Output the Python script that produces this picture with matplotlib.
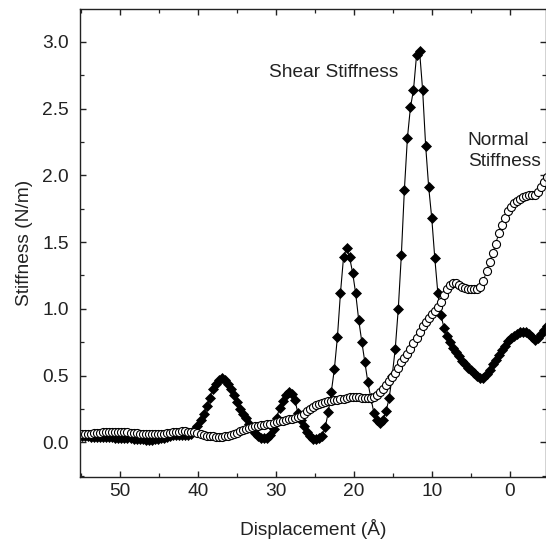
import matplotlib
matplotlib.use("Agg")
from matplotlib import pyplot as plt
from matplotlib.ticker import MultipleLocator

plt.rcParams['font.family'] = ['Liberation Sans', 'DejaVu Sans']

# displacement (Angstrom), one sample every ~0.39 A
disp = [54.86, 54.47, 54.08, 53.69, 53.30, 52.91, 52.52, 52.13, 51.74, 51.35,
        50.96, 50.57, 50.18, 49.79, 49.40, 49.01, 48.62, 48.23, 47.84, 47.45,
        47.06, 46.67, 46.28, 45.89, 45.50, 45.11, 44.72, 44.33, 43.94, 43.55,
        43.16, 42.77, 42.38, 41.99, 41.60, 41.21, 40.82, 40.43, 40.04, 39.65,
        39.26, 38.87, 38.48, 38.09, 37.70, 37.31, 36.92, 36.53, 36.14, 35.75,
        35.36, 34.97, 34.58, 34.19, 33.80, 33.41, 33.02, 32.63, 32.24, 31.85,
        31.46, 31.07, 30.68, 30.29, 29.90, 29.51, 29.12, 28.73, 28.34, 27.95,
        27.56, 27.17, 26.78, 26.39, 26.00, 25.61, 25.22, 24.83, 24.44, 24.05,
        23.66, 23.27, 22.88, 22.49, 22.10, 21.71, 21.32, 20.93, 20.54, 20.15,
        19.76, 19.37, 18.98, 18.59, 18.20, 17.81, 17.42, 17.03, 16.64, 16.25,
        15.86, 15.47, 15.08, 14.69, 14.30, 13.91, 13.52, 13.13, 12.74, 12.35,
        11.96, 11.57, 11.18, 10.79, 10.40, 10.01, 9.62, 9.23, 8.84, 8.45,
        8.06, 7.67, 7.28, 6.89, 6.50, 6.11, 5.72, 5.33, 4.94, 4.55,
        4.16, 3.77, 3.38, 2.99, 2.60, 2.21, 1.82, 1.43, 1.04, 0.65,
        0.26, -0.13, -0.52, -0.91, -1.30, -1.69, -2.08, -2.47, -2.86, -3.25,
        -3.64, -4.03, -4.42, -4.81]

shear = [0.045, 0.045, 0.044, 0.043, 0.042, 0.041, 0.040, 0.040, 0.039, 0.038,
         0.037, 0.036, 0.035, 0.034, 0.033, 0.031, 0.029, 0.027, 0.025, 0.023,
         0.022, 0.021, 0.020, 0.021, 0.022, 0.025, 0.030, 0.036, 0.042, 0.048,
         0.053, 0.056, 0.058, 0.058, 0.057, 0.058, 0.065, 0.090, 0.120, 0.165,
         0.210, 0.270, 0.330, 0.400, 0.440, 0.470, 0.480, 0.470, 0.440, 0.400,
         0.355, 0.300, 0.250, 0.210, 0.180, 0.140, 0.105, 0.070, 0.045, 0.035,
         0.030, 0.035, 0.055, 0.100, 0.180, 0.260, 0.310, 0.355, 0.380, 0.360,
         0.320, 0.220, 0.170, 0.120, 0.075, 0.045, 0.025, 0.022, 0.030, 0.045,
         0.115, 0.225, 0.380, 0.550, 0.790, 1.120, 1.385, 1.453, 1.385, 1.270,
         1.115, 0.915, 0.755, 0.605, 0.450, 0.330, 0.220, 0.170, 0.145, 0.170,
         0.235, 0.330, 0.500, 0.700, 1.000, 1.400, 1.890, 2.280, 2.510, 2.640,
         2.900, 2.930, 2.640, 2.220, 1.910, 1.680, 1.380, 1.120, 0.955, 0.860,
         0.800, 0.750, 0.710, 0.675, 0.645, 0.610, 0.585, 0.560, 0.540, 0.520,
         0.500, 0.485, 0.480, 0.510, 0.545, 0.585, 0.620, 0.655, 0.690, 0.725,
         0.760, 0.785, 0.800, 0.815, 0.825, 0.830, 0.825, 0.810, 0.790, 0.770,
         0.780, 0.810, 0.845, 0.870]

normal = [0.060, 0.062, 0.064, 0.066, 0.068, 0.070, 0.072, 0.074, 0.075, 0.076,
          0.077, 0.078, 0.078, 0.077, 0.076, 0.074, 0.072, 0.070, 0.068, 0.066,
          0.064, 0.062, 0.061, 0.060, 0.060, 0.061, 0.063, 0.066, 0.069, 0.072,
          0.075, 0.078, 0.080, 0.081, 0.081, 0.080, 0.078, 0.075, 0.070, 0.062,
          0.055, 0.050, 0.046, 0.044, 0.043, 0.042, 0.043, 0.045, 0.050, 0.057,
          0.065, 0.073, 0.082, 0.090, 0.098, 0.106, 0.113, 0.119, 0.124, 0.128,
          0.132, 0.136, 0.140, 0.145, 0.152, 0.158, 0.163, 0.167, 0.171, 0.175,
          0.180, 0.188, 0.200, 0.215, 0.232, 0.250, 0.265, 0.278, 0.288, 0.296,
          0.302, 0.307, 0.312, 0.316, 0.320, 0.324, 0.328, 0.332, 0.336, 0.338,
          0.338, 0.336, 0.333, 0.330, 0.329, 0.332, 0.340, 0.355, 0.375, 0.400,
          0.430, 0.460, 0.490, 0.520, 0.560, 0.600, 0.635, 0.665, 0.700, 0.745,
          0.785, 0.830, 0.870, 0.905, 0.935, 0.960, 0.980, 1.010, 1.050, 1.100,
          1.150, 1.180, 1.195, 1.190, 1.180, 1.165, 1.155, 1.150, 1.148, 1.146,
          1.148, 1.165, 1.210, 1.285, 1.350, 1.415, 1.485, 1.565, 1.630, 1.680,
          1.730, 1.765, 1.790, 1.810, 1.825, 1.835, 1.845, 1.850, 1.850, 1.855,
          1.875, 1.910, 1.950, 1.990]

fig = plt.figure(figsize=(5.46, 5.39), dpi=100)
ax = fig.add_axes([0.1465, 0.115, 0.853, 0.868])

ax.plot(disp, shear, color='black', lw=0.8, marker='D', ms=4.6,
        mfc='black', mec='black', mew=0.5)
ax.plot(disp, normal, color='black', lw=0.7, marker='o', ms=5.8,
        mfc='white', mec='black', mew=0.8)

ax.set_xlim(55.1, -4.6)
ax.set_ylim(-0.26, 3.245)
ax.xaxis.set_major_locator(MultipleLocator(10))
ax.xaxis.set_minor_locator(MultipleLocator(5))
ax.yaxis.set_major_locator(MultipleLocator(0.5))
ax.yaxis.set_minor_locator(MultipleLocator(0.25))
ax.yaxis.set_major_formatter(plt.FormatStrFormatter('%.1f'))

ax.tick_params(which='both', direction='in', top=True, right=True,
               labelsize=13.8, colors='#222222')
ax.tick_params(which='major', length=4.5, width=1.0)
ax.tick_params(which='minor', length=3, width=0.9)
ax.tick_params(axis='x', pad=4)
ax.tick_params(axis='y', pad=8)
for s in ax.spines.values():
    s.set_linewidth(1.0)
    s.set_color('#222222')

ax.set_xlabel('Displacement (Å)', fontsize=13.8, color='#222222', labelpad=14)
ax.set_ylabel('Stiffness (N/m)', fontsize=13.8, color='#222222', labelpad=7)

ax.text(30.9, 2.77, 'Shear Stiffness', fontsize=13.8, color='#222222',
        ha='left', va='center')
ax.text(5.38, 2.18, 'Normal\nStiffness', fontsize=13.8, color='#222222',
        ha='left', va='center', linespacing=1.3)

fig.savefig('out.png', dpi=100)
